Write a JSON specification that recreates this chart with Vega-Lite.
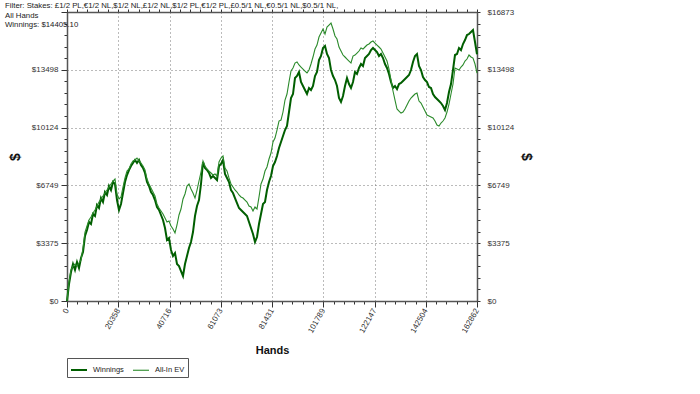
{
"$schema":"https://vega.github.io/schema/vega-lite/v6.json",
"width":410,"height":289,
"autosize":"none",
"padding":{"left":67,"top":12,"right":223,"bottom":93},
"background":"white",
"title":{"text":["Filter: Stakes: £1/2 PL,€1/2 NL,$1/2 NL,£1/2 NL,$1/2 PL,€1/2 PL,£0.5/1 NL,€0.5/1 NL,$0.5/1 NL,","All Hands","Winnings: $14405.10"],"anchor":"start","frame":"group","orient":"top","offset":-21,"dx":-62,"fontSize":7.8,"font":"Liberation Sans","fontWeight":"normal","color":"#222","lineHeight":9.5},
"config":{"view":{"stroke":null},"axis":{"labelFont":"Liberation Sans","labelFontSize":8,"labelColor":"#333","titleFont":"Liberation Sans","titleColor":"#111","tickColor":"#333","domainColor":"#555","domainWidth":1.5}},
"data":{"values":[
{"series":"Winnings","hands":0,"value":0},{"series":"Winnings","hands":794,"value":992},{"series":"Winnings","hands":1589,"value":1693},{"series":"Winnings","hands":2383,"value":2160},{"series":"Winnings","hands":3178,"value":1810},{"series":"Winnings","hands":3972,"value":2277},{"series":"Winnings","hands":4767,"value":1927},{"series":"Winnings","hands":5561,"value":2510},{"series":"Winnings","hands":6356,"value":2861},{"series":"Winnings","hands":7150,"value":3795},
{"series":"Winnings","hands":7944,"value":4145},{"series":"Winnings","hands":8739,"value":4612},{"series":"Winnings","hands":9533,"value":4495},{"series":"Winnings","hands":10328,"value":5079},{"series":"Winnings","hands":11122,"value":4962},{"series":"Winnings","hands":11917,"value":5604},{"series":"Winnings","hands":12711,"value":5429},{"series":"Winnings","hands":13505,"value":6013},{"series":"Winnings","hands":14300,"value":5780},{"series":"Winnings","hands":15094,"value":6363},
{"series":"Winnings","hands":15889,"value":6188},{"series":"Winnings","hands":16683,"value":6714},{"series":"Winnings","hands":17478,"value":6480},{"series":"Winnings","hands":18272,"value":6947},{"series":"Winnings","hands":19067,"value":6830},{"series":"Winnings","hands":19861,"value":5896},{"series":"Winnings","hands":20655,"value":5313},{"series":"Winnings","hands":21450,"value":5663},{"series":"Winnings","hands":22244,"value":6305},{"series":"Winnings","hands":23039,"value":6947},
{"series":"Winnings","hands":23833,"value":7356},{"series":"Winnings","hands":24628,"value":7648},{"series":"Winnings","hands":25422,"value":7881},{"series":"Winnings","hands":26217,"value":8056},{"series":"Winnings","hands":27011,"value":8232},{"series":"Winnings","hands":27805,"value":8056},{"series":"Winnings","hands":28600,"value":8232},{"series":"Winnings","hands":29394,"value":7940},{"series":"Winnings","hands":30189,"value":7765},{"series":"Winnings","hands":30983,"value":7473},
{"series":"Winnings","hands":31778,"value":6947},{"series":"Winnings","hands":32572,"value":6714},{"series":"Winnings","hands":33366,"value":6363},{"series":"Winnings","hands":34161,"value":6188},{"series":"Winnings","hands":34955,"value":5896},{"series":"Winnings","hands":35750,"value":5488},{"series":"Winnings","hands":36544,"value":5313},{"series":"Winnings","hands":37339,"value":5021},{"series":"Winnings","hands":38133,"value":4729},{"series":"Winnings","hands":38928,"value":4262},
{"series":"Winnings","hands":39722,"value":3561},{"series":"Winnings","hands":40516,"value":3678},{"series":"Winnings","hands":41311,"value":2977},{"series":"Winnings","hands":42105,"value":2627},{"series":"Winnings","hands":42900,"value":2802},{"series":"Winnings","hands":43694,"value":2160},{"series":"Winnings","hands":44489,"value":2043},{"series":"Winnings","hands":45283,"value":1751},{"series":"Winnings","hands":46078,"value":1460},{"series":"Winnings","hands":46872,"value":2160},
{"series":"Winnings","hands":47666,"value":2627},{"series":"Winnings","hands":48461,"value":3094},{"series":"Winnings","hands":49255,"value":3444},{"series":"Winnings","hands":50050,"value":4028},{"series":"Winnings","hands":50844,"value":4962},{"series":"Winnings","hands":51639,"value":5546},{"series":"Winnings","hands":52433,"value":5896},{"series":"Winnings","hands":53227,"value":6830},{"series":"Winnings","hands":54022,"value":8115},{"series":"Winnings","hands":54816,"value":7765},
{"series":"Winnings","hands":55611,"value":7648},{"series":"Winnings","hands":56405,"value":7473},{"series":"Winnings","hands":57200,"value":7181},{"series":"Winnings","hands":57994,"value":7298},{"series":"Winnings","hands":58789,"value":7181},{"series":"Winnings","hands":59583,"value":7064},{"series":"Winnings","hands":60377,"value":7881},{"series":"Winnings","hands":61172,"value":7998},{"series":"Winnings","hands":61966,"value":8232},{"series":"Winnings","hands":62761,"value":7414},
{"series":"Winnings","hands":63555,"value":7181},{"series":"Winnings","hands":64350,"value":6947},{"series":"Winnings","hands":65144,"value":6480},{"series":"Winnings","hands":65939,"value":6305},{"series":"Winnings","hands":66733,"value":6013},{"series":"Winnings","hands":67527,"value":5721},{"series":"Winnings","hands":68322,"value":5429},{"series":"Winnings","hands":69116,"value":5313},{"series":"Winnings","hands":69911,"value":5196},{"series":"Winnings","hands":70705,"value":5079},
{"series":"Winnings","hands":71500,"value":4962},{"series":"Winnings","hands":72294,"value":4612},{"series":"Winnings","hands":73088,"value":4262},{"series":"Winnings","hands":73883,"value":3911},{"series":"Winnings","hands":74677,"value":3444},{"series":"Winnings","hands":75472,"value":3736},{"series":"Winnings","hands":76266,"value":4495},{"series":"Winnings","hands":77061,"value":5079},{"series":"Winnings","hands":77855,"value":5663},{"series":"Winnings","hands":78650,"value":5780},
{"series":"Winnings","hands":79444,"value":6480},{"series":"Winnings","hands":80238,"value":6947},{"series":"Winnings","hands":81033,"value":7298},{"series":"Winnings","hands":81827,"value":7881},{"series":"Winnings","hands":82622,"value":8115},{"series":"Winnings","hands":83416,"value":8465},{"series":"Winnings","hands":84211,"value":8932},{"series":"Winnings","hands":85005,"value":9282},{"series":"Winnings","hands":85800,"value":9633},{"series":"Winnings","hands":86594,"value":9983},
{"series":"Winnings","hands":87388,"value":10217},{"series":"Winnings","hands":88183,"value":11034},{"series":"Winnings","hands":88977,"value":11851},{"series":"Winnings","hands":89772,"value":12085},{"series":"Winnings","hands":90566,"value":13019},{"series":"Winnings","hands":91361,"value":13136},{"series":"Winnings","hands":92155,"value":13369},{"series":"Winnings","hands":92949,"value":12785},{"series":"Winnings","hands":93744,"value":12552},{"series":"Winnings","hands":94538,"value":12318},
{"series":"Winnings","hands":95333,"value":12085},{"series":"Winnings","hands":96127,"value":12435},{"series":"Winnings","hands":96922,"value":12318},{"series":"Winnings","hands":97716,"value":12552},{"series":"Winnings","hands":98511,"value":13136},{"series":"Winnings","hands":99305,"value":13369},{"series":"Winnings","hands":100099,"value":14070},{"series":"Winnings","hands":100894,"value":14303},{"series":"Winnings","hands":101688,"value":14770},{"series":"Winnings","hands":102483,"value":14887},
{"series":"Winnings","hands":103277,"value":14420},{"series":"Winnings","hands":104072,"value":14186},{"series":"Winnings","hands":104866,"value":13486},{"series":"Winnings","hands":105661,"value":13136},{"series":"Winnings","hands":106455,"value":12902},{"series":"Winnings","hands":107249,"value":12552},{"series":"Winnings","hands":108044,"value":11851},{"series":"Winnings","hands":108838,"value":11618},{"series":"Winnings","hands":109633,"value":11968},{"series":"Winnings","hands":110427,"value":12552},
{"series":"Winnings","hands":111222,"value":13019},{"series":"Winnings","hands":112016,"value":12668},{"series":"Winnings","hands":112810,"value":12435},{"series":"Winnings","hands":113605,"value":12785},{"series":"Winnings","hands":114399,"value":13369},{"series":"Winnings","hands":115194,"value":13252},{"series":"Winnings","hands":115988,"value":13603},{"series":"Winnings","hands":116783,"value":13836},{"series":"Winnings","hands":117577,"value":13719},{"series":"Winnings","hands":118372,"value":14186},
{"series":"Winnings","hands":119166,"value":14303},{"series":"Winnings","hands":119960,"value":14420},{"series":"Winnings","hands":120755,"value":14653},{"series":"Winnings","hands":121549,"value":14770},{"series":"Winnings","hands":122344,"value":14653},{"series":"Winnings","hands":123138,"value":14537},{"series":"Winnings","hands":123933,"value":14303},{"series":"Winnings","hands":124727,"value":14420},{"series":"Winnings","hands":125522,"value":14186},{"series":"Winnings","hands":126316,"value":13836},
{"series":"Winnings","hands":127110,"value":13603},{"series":"Winnings","hands":127905,"value":13252},{"series":"Winnings","hands":128699,"value":12785},{"series":"Winnings","hands":129494,"value":12435},{"series":"Winnings","hands":130288,"value":12552},{"series":"Winnings","hands":131083,"value":12377},{"series":"Winnings","hands":131877,"value":12668},{"series":"Winnings","hands":132671,"value":12727},{"series":"Winnings","hands":133466,"value":12844},{"series":"Winnings","hands":134260,"value":12960},
{"series":"Winnings","hands":135055,"value":13077},{"series":"Winnings","hands":135849,"value":13194},{"series":"Winnings","hands":136644,"value":13486},{"series":"Winnings","hands":137438,"value":13953},{"series":"Winnings","hands":138233,"value":14303},{"series":"Winnings","hands":139027,"value":14420},{"series":"Winnings","hands":139821,"value":13719},{"series":"Winnings","hands":140616,"value":13486},{"series":"Winnings","hands":141410,"value":13077},{"series":"Winnings","hands":142205,"value":12902},
{"series":"Winnings","hands":142999,"value":12785},{"series":"Winnings","hands":143794,"value":12493},{"series":"Winnings","hands":144588,"value":12435},{"series":"Winnings","hands":145383,"value":12085},{"series":"Winnings","hands":146177,"value":11910},{"series":"Winnings","hands":146971,"value":11793},{"series":"Winnings","hands":147766,"value":11676},{"series":"Winnings","hands":148560,"value":11559},{"series":"Winnings","hands":149355,"value":11384},{"series":"Winnings","hands":150149,"value":11151},
{"series":"Winnings","hands":150944,"value":11559},{"series":"Winnings","hands":151738,"value":12201},{"series":"Winnings","hands":152532,"value":12668},{"series":"Winnings","hands":153327,"value":13486},{"series":"Winnings","hands":154121,"value":14361},{"series":"Winnings","hands":154916,"value":14420},{"series":"Winnings","hands":155710,"value":14770},{"series":"Winnings","hands":156505,"value":14653},{"series":"Winnings","hands":157299,"value":15004},{"series":"Winnings","hands":158094,"value":15237},
{"series":"Winnings","hands":158888,"value":15529},{"series":"Winnings","hands":159682,"value":15587},{"series":"Winnings","hands":160477,"value":15704},{"series":"Winnings","hands":161271,"value":15821},{"series":"Winnings","hands":162066,"value":15120},{"series":"Winnings","hands":162862,"value":14405},
{"series":"All-In EV","hands":0,"value":0},{"series":"All-In EV","hands":794,"value":1109},{"series":"All-In EV","hands":1589,"value":1810},{"series":"All-In EV","hands":2383,"value":2043},{"series":"All-In EV","hands":3178,"value":2160},{"series":"All-In EV","hands":3972,"value":2043},{"series":"All-In EV","hands":4767,"value":2218},{"series":"All-In EV","hands":5561,"value":2394},{"series":"All-In EV","hands":6356,"value":3094},{"series":"All-In EV","hands":7150,"value":4028},
{"series":"All-In EV","hands":7944,"value":4379},{"series":"All-In EV","hands":8739,"value":4729},{"series":"All-In EV","hands":9533,"value":4904},{"series":"All-In EV","hands":10328,"value":5137},{"series":"All-In EV","hands":11122,"value":5313},{"series":"All-In EV","hands":11917,"value":5546},{"series":"All-In EV","hands":12711,"value":5780},{"series":"All-In EV","hands":13505,"value":5955},{"series":"All-In EV","hands":14300,"value":6130},{"series":"All-In EV","hands":15094,"value":6305},
{"series":"All-In EV","hands":15889,"value":6480},{"series":"All-In EV","hands":16683,"value":6655},{"series":"All-In EV","hands":17478,"value":6830},{"series":"All-In EV","hands":18272,"value":7006},{"series":"All-In EV","hands":19067,"value":7122},{"series":"All-In EV","hands":19861,"value":6247},{"series":"All-In EV","hands":20655,"value":5955},{"series":"All-In EV","hands":21450,"value":6072},{"series":"All-In EV","hands":22244,"value":6655},{"series":"All-In EV","hands":23039,"value":7181},
{"series":"All-In EV","hands":23833,"value":7589},{"series":"All-In EV","hands":24628,"value":7706},{"series":"All-In EV","hands":25422,"value":7998},{"series":"All-In EV","hands":26217,"value":8173},{"series":"All-In EV","hands":27011,"value":8232},{"series":"All-In EV","hands":27805,"value":8348},{"series":"All-In EV","hands":28600,"value":8173},{"series":"All-In EV","hands":29394,"value":8056},{"series":"All-In EV","hands":30189,"value":7881},{"series":"All-In EV","hands":30983,"value":7648},
{"series":"All-In EV","hands":31778,"value":7122},{"series":"All-In EV","hands":32572,"value":6830},{"series":"All-In EV","hands":33366,"value":6597},{"series":"All-In EV","hands":34161,"value":6363},{"series":"All-In EV","hands":34955,"value":6130},{"series":"All-In EV","hands":35750,"value":5663},{"series":"All-In EV","hands":36544,"value":5429},{"series":"All-In EV","hands":37339,"value":5254},{"series":"All-In EV","hands":38133,"value":5079},{"series":"All-In EV","hands":38928,"value":4846},
{"series":"All-In EV","hands":39722,"value":4612},{"series":"All-In EV","hands":40516,"value":4670},{"series":"All-In EV","hands":41311,"value":4379},{"series":"All-In EV","hands":42105,"value":4203},{"series":"All-In EV","hands":42900,"value":3970},{"series":"All-In EV","hands":43694,"value":4437},{"series":"All-In EV","hands":44489,"value":5021},{"series":"All-In EV","hands":45283,"value":5371},{"series":"All-In EV","hands":46078,"value":5955},{"series":"All-In EV","hands":46872,"value":6247},
{"series":"All-In EV","hands":47666,"value":6714},{"series":"All-In EV","hands":48461,"value":6830},{"series":"All-In EV","hands":49255,"value":6539},{"series":"All-In EV","hands":50050,"value":6305},{"series":"All-In EV","hands":50844,"value":6013},{"series":"All-In EV","hands":51639,"value":6480},{"series":"All-In EV","hands":52433,"value":7006},{"series":"All-In EV","hands":53227,"value":7531},{"series":"All-In EV","hands":54022,"value":8173},{"series":"All-In EV","hands":54816,"value":7881},
{"series":"All-In EV","hands":55611,"value":7706},{"series":"All-In EV","hands":56405,"value":7589},{"series":"All-In EV","hands":57200,"value":7473},{"series":"All-In EV","hands":57994,"value":7356},{"series":"All-In EV","hands":58789,"value":7414},{"series":"All-In EV","hands":59583,"value":7298},{"series":"All-In EV","hands":60377,"value":8115},{"series":"All-In EV","hands":61172,"value":8348},{"series":"All-In EV","hands":61966,"value":8465},{"series":"All-In EV","hands":62761,"value":7765},
{"series":"All-In EV","hands":63555,"value":7589},{"series":"All-In EV","hands":64350,"value":7181},{"series":"All-In EV","hands":65144,"value":6830},{"series":"All-In EV","hands":65939,"value":6655},{"series":"All-In EV","hands":66733,"value":6480},{"series":"All-In EV","hands":67527,"value":6363},{"series":"All-In EV","hands":68322,"value":6188},{"series":"All-In EV","hands":69116,"value":6072},{"series":"All-In EV","hands":69911,"value":6013},{"series":"All-In EV","hands":70705,"value":5896},
{"series":"All-In EV","hands":71500,"value":5780},{"series":"All-In EV","hands":72294,"value":5546},{"series":"All-In EV","hands":73088,"value":5488},{"series":"All-In EV","hands":73883,"value":5254},{"series":"All-In EV","hands":74677,"value":5488},{"series":"All-In EV","hands":75472,"value":5371},{"series":"All-In EV","hands":76266,"value":6072},{"series":"All-In EV","hands":77061,"value":6830},{"series":"All-In EV","hands":77855,"value":7122},{"series":"All-In EV","hands":78650,"value":7589},
{"series":"All-In EV","hands":79444,"value":7823},{"series":"All-In EV","hands":80238,"value":8290},{"series":"All-In EV","hands":81033,"value":8640},{"series":"All-In EV","hands":81827,"value":9282},{"series":"All-In EV","hands":82622,"value":9516},{"series":"All-In EV","hands":83416,"value":9983},{"series":"All-In EV","hands":84211,"value":10508},{"series":"All-In EV","hands":85005,"value":10567},{"series":"All-In EV","hands":85800,"value":11034},{"series":"All-In EV","hands":86594,"value":11734},
{"series":"All-In EV","hands":87388,"value":12085},{"series":"All-In EV","hands":88183,"value":12785},{"series":"All-In EV","hands":88977,"value":13427},{"series":"All-In EV","hands":89772,"value":13603},{"series":"All-In EV","hands":90566,"value":13894},{"series":"All-In EV","hands":91361,"value":13953},{"series":"All-In EV","hands":92155,"value":13778},{"series":"All-In EV","hands":92949,"value":13661},{"series":"All-In EV","hands":93744,"value":13544},{"series":"All-In EV","hands":94538,"value":13427},
{"series":"All-In EV","hands":95333,"value":13311},{"series":"All-In EV","hands":96127,"value":13486},{"series":"All-In EV","hands":96922,"value":13836},{"series":"All-In EV","hands":97716,"value":14245},{"series":"All-In EV","hands":98511,"value":14712},{"series":"All-In EV","hands":99305,"value":14945},{"series":"All-In EV","hands":100099,"value":15412},{"series":"All-In EV","hands":100894,"value":15646},{"series":"All-In EV","hands":101688,"value":15879},{"series":"All-In EV","hands":102483,"value":15587},
{"series":"All-In EV","hands":103277,"value":15996},{"series":"All-In EV","hands":104072,"value":16113},{"series":"All-In EV","hands":104866,"value":16230},{"series":"All-In EV","hands":105661,"value":15879},{"series":"All-In EV","hands":106455,"value":15471},{"series":"All-In EV","hands":107249,"value":15296},{"series":"All-In EV","hands":108044,"value":14829},{"series":"All-In EV","hands":108838,"value":14595},{"series":"All-In EV","hands":109633,"value":14361},{"series":"All-In EV","hands":110427,"value":14245},
{"series":"All-In EV","hands":111222,"value":14128},{"series":"All-In EV","hands":112016,"value":14011},{"series":"All-In EV","hands":112810,"value":13894},{"series":"All-In EV","hands":113605,"value":14303},{"series":"All-In EV","hands":114399,"value":14361},{"series":"All-In EV","hands":115194,"value":14478},{"series":"All-In EV","hands":115988,"value":14595},{"series":"All-In EV","hands":116783,"value":14770},{"series":"All-In EV","hands":117577,"value":14712},{"series":"All-In EV","hands":118372,"value":14829},
{"series":"All-In EV","hands":119166,"value":14945},{"series":"All-In EV","hands":119960,"value":15004},{"series":"All-In EV","hands":120755,"value":15120},{"series":"All-In EV","hands":121549,"value":15179},{"series":"All-In EV","hands":122344,"value":15062},{"series":"All-In EV","hands":123138,"value":14945},{"series":"All-In EV","hands":123933,"value":14829},{"series":"All-In EV","hands":124727,"value":14712},{"series":"All-In EV","hands":125522,"value":14478},{"series":"All-In EV","hands":126316,"value":14245},
{"series":"All-In EV","hands":127110,"value":14011},{"series":"All-In EV","hands":127905,"value":13544},{"series":"All-In EV","hands":128699,"value":12902},{"series":"All-In EV","hands":129494,"value":12260},{"series":"All-In EV","hands":130288,"value":11734},{"series":"All-In EV","hands":131083,"value":11209},{"series":"All-In EV","hands":131877,"value":11092},{"series":"All-In EV","hands":132671,"value":10975},{"series":"All-In EV","hands":133466,"value":11034},{"series":"All-In EV","hands":134260,"value":11209},
{"series":"All-In EV","hands":135055,"value":11442},{"series":"All-In EV","hands":135849,"value":11676},{"series":"All-In EV","hands":136644,"value":11851},{"series":"All-In EV","hands":137438,"value":11968},{"series":"All-In EV","hands":138233,"value":12085},{"series":"All-In EV","hands":139027,"value":12143},{"series":"All-In EV","hands":139821,"value":11676},{"series":"All-In EV","hands":140616,"value":11559},{"series":"All-In EV","hands":141410,"value":11326},{"series":"All-In EV","hands":142205,"value":11092},
{"series":"All-In EV","hands":142999,"value":10859},{"series":"All-In EV","hands":143794,"value":10800},{"series":"All-In EV","hands":144588,"value":10742},{"series":"All-In EV","hands":145383,"value":10684},{"series":"All-In EV","hands":146177,"value":10508},{"series":"All-In EV","hands":146971,"value":10275},{"series":"All-In EV","hands":147766,"value":10217},{"series":"All-In EV","hands":148560,"value":10392},{"series":"All-In EV","hands":149355,"value":10508},{"series":"All-In EV","hands":150149,"value":10684},
{"series":"All-In EV","hands":150944,"value":11034},{"series":"All-In EV","hands":151738,"value":11501},{"series":"All-In EV","hands":152532,"value":12085},{"series":"All-In EV","hands":153327,"value":12668},{"series":"All-In EV","hands":154121,"value":13603},{"series":"All-In EV","hands":154916,"value":13544},{"series":"All-In EV","hands":155710,"value":13486},{"series":"All-In EV","hands":156505,"value":13661},{"series":"All-In EV","hands":157299,"value":13778},{"series":"All-In EV","hands":158094,"value":14011},
{"series":"All-In EV","hands":158888,"value":14128},{"series":"All-In EV","hands":159682,"value":14361},{"series":"All-In EV","hands":160477,"value":14245},{"series":"All-In EV","hands":161271,"value":14186},{"series":"All-In EV","hands":162066,"value":13836},{"series":"All-In EV","hands":162862,"value":13311}
]},
"layer":[
{"mark":{"type":"line","strokeOpacity":0},
 "encoding":{
  "x":{"field":"hands","type":"quantitative","scale":{"domain":[0,162862],"nice":false,"zero":false},
       "axis":{"orient":"bottom","values":[0,20358,40716,61073,81431,101789,122147,142504,162862],"grid":true,"gridDash":[1,3],"gridColor":"#777","gridWidth":1,"domain":false,"labels":false,"ticks":true,"tickSize":6,"title":null}},
  "y":{"field":"value","type":"quantitative","scale":{"domain":[0,16873],"nice":false,"zero":true},
       "axis":{"orient":"left","values":[0,3375,6749,10124,13498,16873],"grid":true,"gridDash":[1,3],"gridColor":"#777","gridWidth":1,"domain":false,"labels":false,"ticks":true,"tickSize":6,"title":null}},
  "detail":{"field":"series"}}},
{"mark":{"type":"line","interpolate":"linear"},
 "encoding":{
  "x":{"field":"hands","type":"quantitative",
       "axis":{"orient":"bottom","values":[0,4072,8143,12215,16286,20358,24429,28501,32572,36644,40716,44787,48859,52930,57002,61073,65145,69216,73288,77359,81431,85503,89574,93646,97717,101789,105861,109932,114004,118075,122147,126218,130290,134361,138433,142504,146576,150648,154719,158791,162862],
               "labelExpr":"indexof([0,20358,40716,61073,81431,101789,122147,142504,162862], datum.value) >= 0 ? format(datum.value, 'd') : ''",
               "labelAngle":-60,"labelOverlap":false,"labelPadding":5,"tickSize":3,"grid":false,"title":"Hands","titleFontSize":11,"titleFontWeight":"bold","titlePadding":10}},
  "y":{"field":"value","type":"quantitative",
       "axis":{"orient":"left","values":[0,675,1350,2025,2700,3375,4050,4724,5399,6074,6749,7424,8099,8774,9449,10124,10799,11474,12149,12823,13498,14173,14848,15523,16198,16873],
               "labelExpr":"indexof([0,3375,6749,10124,13498], datum.value) >= 0 ? '$' + format(datum.value, 'd') : ''",
               "labelOverlap":false,"labelPadding":6,"tickSize":3,"grid":false,"title":"$","titleFontSize":14,"titleFontWeight":"bold","titlePadding":9}},
  "color":{"field":"series","type":"nominal","scale":{"domain":["Winnings","All-In EV"],"range":["#005e00","#2a8a2a"]},
           "legend":{"orient":"none","legendX":0,"legendY":346,"direction":"horizontal","title":null,"strokeColor":"#555","fillColor":"white","padding":3,"symbolType":"stroke","symbolSize":256,"labelFont":"Liberation Sans","labelFontSize":7.5,"labelColor":"#222","columnPadding":6,"labelOffset":5}},
  "strokeWidth":{"field":"series","type":"nominal","scale":{"domain":["Winnings","All-In EV"],"range":[2,1.1]}}}},
{"mark":{"type":"line","strokeOpacity":0},
 "encoding":{
  "x":{"field":"hands","type":"quantitative",
       "axis":{"orient":"top","values":[0,4072,8143,12215,16286,20358,24429,28501,32572,36644,40716,44787,48859,52930,57002,61073,65145,69216,73288,77359,81431,85503,89574,93646,97717,101789,105861,109932,114004,118075,122147,126218,130290,134361,138433,142504,146576,150648,154719,158791,162862],
               "labels":false,"tickSize":3,"grid":false,"title":null}},
  "y":{"field":"value","type":"quantitative",
       "axis":{"orient":"right","values":[0,675,1350,2025,2700,3375,4050,4724,5399,6074,6749,7424,8099,8774,9449,10124,10799,11474,12149,12823,13498,14173,14848,15523,16198,16873],
               "labelExpr":"indexof([0,3375,6749,10124,13498,16873], datum.value) >= 0 ? '$' + format(datum.value, 'd') : ''",
               "labelOverlap":false,"labelPadding":7,"tickSize":3,"grid":false,"title":"$","titleFontSize":14,"titleFontWeight":"bold","titlePadding":5}},
  "detail":{"field":"series"}}}
],
"resolve":{"axis":{"x":"independent","y":"independent"}}
}
